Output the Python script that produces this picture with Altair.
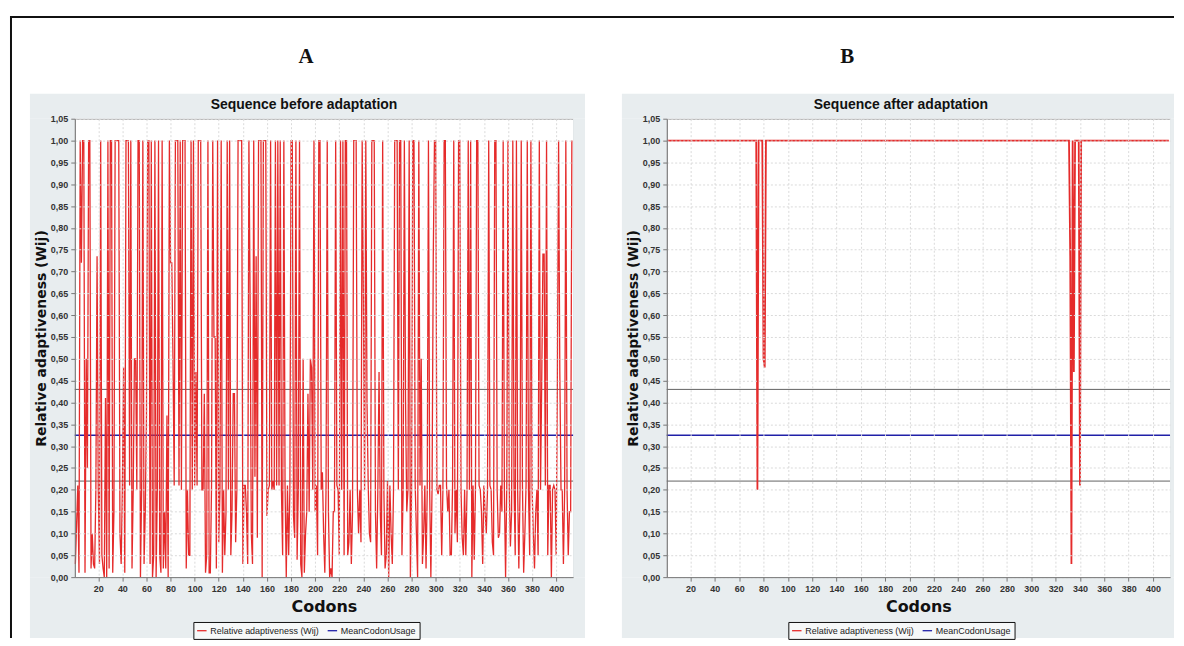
import altair as alt
import pandas as pd

# ---------------- data ----------------
codons = list(range(1, 414))

wij_before = [
    0.03, 0.12, 0.21, 0.01, 1.00, 0.72, 1.00, 1.00, 0.01, 0.50,
    0.25, 1.00, 1.00, 0.02, 0.10, 0.03, 0.02, 0.20, 0.735, 0.20,
    0.03, 1.00, 0.05, 0.02, 0.00, 0.41, 0.00, 1.00, 0.02, 1.00,
    1.00, 0.01, 0.15, 1.00, 1.00, 1.00, 1.00, 0.10, 0.03, 0.20,
    0.48, 0.01, 1.00, 1.00, 1.00, 0.21, 1.00, 0.02, 0.20, 0.50,
    0.50, 0.20, 1.00, 1.00, 0.00, 0.20, 1.00, 0.03, 0.15, 0.37,
    1.00, 1.00, 0.03, 1.00, 0.00, 0.05, 1.00, 0.00, 0.20, 1.00,
    0.05, 0.01, 1.00, 0.02, 0.15, 0.02, 0.37, 0.00, 1.00, 0.72,
    0.72, 0.50, 0.21, 1.00, 1.00, 1.00, 0.21, 1.00, 0.20, 1.00,
    1.00, 1.00, 0.02, 0.20, 0.05, 0.05, 1.00, 0.20, 1.00, 0.21,
    0.47, 0.21, 1.00, 1.00, 1.00, 0.20, 0.20, 0.42, 0.01, 0.05,
    1.00, 0.01, 0.01, 0.21, 1.00, 0.55, 0.55, 0.02, 1.00, 0.08,
    0.20, 1.00, 0.01, 0.20, 0.05, 0.15, 1.00, 0.20, 1.00, 0.05,
    0.15, 0.42, 0.42, 0.08, 0.20, 1.00, 1.00, 1.00, 1.00, 0.03,
    0.21, 0.21, 0.15, 0.03, 1.00, 0.64, 0.10, 0.03, 1.00, 0.23,
    0.735, 0.09, 1.00, 1.00, 1.00, 0.00, 1.00, 1.00, 1.00, 0.14,
    0.20, 0.21, 1.00, 0.20, 0.22, 0.20, 1.00, 0.21, 1.00, 0.21,
    1.00, 0.20, 0.05, 1.00, 0.21, 0.00, 0.21, 0.05, 0.20, 1.00,
    1.00, 0.14, 0.09, 1.00, 0.04, 0.20, 1.00, 0.03, 0.00, 0.50,
    0.01, 0.10, 0.15, 0.42, 0.15, 0.50, 0.48, 0.20, 1.00, 0.15,
    0.21, 0.05, 1.00, 1.00, 0.20, 0.24, 0.10, 0.01, 0.20, 1.00,
    0.15, 0.00, 0.02, 0.00, 0.15, 0.15, 1.00, 0.21, 0.20, 0.05,
    1.00, 0.20, 1.00, 0.05, 1.00, 1.00, 0.05, 0.08, 0.20, 0.03,
    0.15, 1.00, 1.00, 1.00, 0.20, 0.10, 0.20, 0.08, 1.00, 0.64,
    0.20, 1.00, 0.40, 0.21, 0.10, 0.08, 1.00, 1.00, 1.00, 0.15,
    0.02, 0.20, 0.47, 0.15, 0.05, 1.00, 0.20, 0.02, 0.05, 0.22,
    0.00, 0.21, 0.10, 0.03, 0.20, 1.00, 1.00, 1.00, 0.20, 1.00,
    1.00, 0.05, 0.20, 1.00, 0.40, 0.15, 0.20, 1.00, 0.00, 0.20,
    1.00, 1.00, 0.21, 0.10, 0.00, 1.00, 0.21, 0.50, 0.03, 0.10,
    0.21, 0.02, 0.20, 1.00, 0.20, 0.00, 0.21, 0.735, 1.00, 1.00,
    0.20, 0.19, 0.21, 0.21, 0.05, 0.20, 1.00, 1.00, 0.21, 0.15,
    0.20, 0.05, 0.05, 0.21, 1.00, 0.10, 0.20, 0.08, 1.00, 1.00,
    0.20, 0.09, 0.05, 0.20, 0.05, 0.20, 1.00, 0.20, 1.00, 0.00,
    0.21, 0.04, 0.20, 1.00, 1.00, 0.21, 0.20, 0.15, 0.03, 0.21,
    0.15, 0.10, 0.20, 1.00, 0.21, 0.20, 0.08, 0.05, 1.00, 1.00,
    0.20, 0.09, 0.10, 0.21, 0.15, 1.00, 0.20, 0.00, 0.21, 1.00,
    0.21, 0.07, 0.15, 1.00, 0.21, 0.05, 1.00, 0.20, 0.02, 0.20,
    1.00, 0.21, 0.01, 0.10, 0.21, 1.00, 0.20, 0.05, 1.00, 0.20,
    0.10, 0.02, 0.15, 0.20, 0.05, 1.00, 0.20, 0.45, 0.74, 0.74,
    0.21, 1.00, 0.05, 0.21, 0.21, 0.00, 0.20, 0.21, 0.20, 0.05,
    0.47, 1.00, 0.47, 0.20, 0.20, 0.03, 0.20, 1.00, 0.20, 0.05,
    0.15, 0.15, 1.00,
]

# after adaptation: every codon is 1.00 except these
after_dip_codons = [75, 80, 81, 332, 333, 335, 340]
after_dip_values = [0.20, 0.50, 0.48, 0.735, 0.03, 0.47, 0.21]
after_baseline = 1.00

mean_codon_usage = 0.325
band_upper = 0.43
band_lower = 0.22

x_ticks = list(range(20, 401, 20))
y_ticks = [round(i * 0.05, 2) for i in range(22)]

series_names = ["Relative adaptiveness (Wij)", "MeanCodonUsage"]
series_colors = ["#e52b2b", "#2020a8"]

# ---------------- tables ----------------
dips = dict(zip(after_dip_codons, after_dip_values))
wij_after = [dips.get(c, after_baseline) for c in codons]

df_before = pd.DataFrame({"codon": codons, "value": wij_before,
                          "series": series_names[0]})
df_after = pd.DataFrame({"codon": codons, "value": wij_after,
                         "series": series_names[0]})
df_mean = pd.DataFrame({"value": [mean_codon_usage], "series": [series_names[1]]})
df_band = pd.DataFrame({"value": [band_upper, band_lower]})
one = pd.DataFrame({"k": [0]})

# ---------------- styling ----------------
H = 460
W_A = 500
W_B = 505
LAB = "Liberation Sans, Arial, sans-serif"
TIT = "DejaVu Sans, sans-serif"
PANEL_BG = "#e8edef"

x_scale = alt.Scale(domain=[0.5, 414], nice=False, zero=False)
y_scale = alt.Scale(domain=[0, 1.05], nice=False, zero=True)

x_axis = alt.Axis(values=x_ticks, title="Codons", titleFont=TIT, titleFontSize=16,
                  titleFontWeight="bold", titleColor="#111", titlePadding=5,
                  labelFont=LAB, labelFontSize=9, labelFontWeight="bold",
                  labelColor="#333", labelPadding=3, tickColor="#777", tickSize=4,
                  domainColor="#777", gridColor="#dadada", gridDash=[2, 2],
                  labelFlush=False, zindex=1)
y_axis = alt.Axis(values=y_ticks, title="Relative adaptiveness (Wij)",
                  labelExpr="replace(format(datum.value, '.2f'), '.', ',')",
                  titleFont=TIT, titleFontSize=14, titleFontWeight="bold",
                  titleColor="#111", titlePadding=2, titleY=220,
                  labelFont=LAB, labelFontSize=9, labelFontWeight="bold",
                  labelColor="#333", labelPadding=3, tickColor="#777", tickSize=4,
                  domainColor="#777", gridColor="#dadada", gridDash=[2, 2], zindex=1)


def color_enc(legend_x):
    return alt.Color("series:N",
                     scale=alt.Scale(domain=series_names, range=series_colors),
                     legend=alt.Legend(orient="none", legendX=legend_x, legendY=H + 45,
                                       direction="horizontal", title=None,
                                       strokeColor="#111", fillColor="#f6f8f8",
                                       padding=3, symbolType="stroke",
                                       symbolStrokeWidth=1.3, symbolSize=90,
                                       labelFont=LAB, labelFontSize=9,
                                       labelColor="#222", columnPadding=5,
                                       labelOffset=3, zindex=1))


def panel(df, W, right_ext, line_w, letter, letter_x, subtitle, subtitle_x, legend_x, frame):
    top = -25
    bottom = H + 61
    bg = [
        alt.Chart(one).mark_rect(color=PANEL_BG).encode(
            x=alt.value(-45), x2=alt.value(W + right_ext), y=alt.value(top), y2=alt.value(0)),
        alt.Chart(one).mark_rect(color=PANEL_BG).encode(
            x=alt.value(-45), x2=alt.value(W + right_ext), y=alt.value(H), y2=alt.value(bottom)),
        alt.Chart(one).mark_rect(color=PANEL_BG).encode(
            x=alt.value(-45), x2=alt.value(0), y=alt.value(0), y2=alt.value(H)),
        alt.Chart(one).mark_rect(color=PANEL_BG).encode(
            x=alt.value(W), x2=alt.value(W + right_ext), y=alt.value(0), y2=alt.value(H)),
    ]
    band = alt.Chart(df_band).mark_rule(color="#626262", strokeWidth=1).encode(
        y=alt.Y("value:Q", scale=y_scale, axis=y_axis))
    mean = alt.Chart(df_mean).mark_rule(strokeWidth=1.3).encode(
        y=alt.Y("value:Q", scale=y_scale, axis=y_axis), color=color_enc(legend_x))
    line = alt.Chart(df).mark_line(strokeWidth=line_w, interpolate="linear").encode(
        x=alt.X("codon:Q", scale=x_scale, axis=x_axis),
        y=alt.Y("value:Q", scale=y_scale, axis=y_axis),
        color=color_enc(legend_x))
    letter_t = alt.Chart(one).mark_text(text=letter, font="Liberation Serif",
                                        fontSize=21, fontWeight="bold",
                                        color="#111").encode(
        x=alt.value(letter_x), y=alt.value(-62))
    sub_t = alt.Chart(one).mark_text(text=subtitle, font=LAB, fontSize=14,
                                     fontWeight="bold", color="#111").encode(
        x=alt.value(subtitle_x), y=alt.value(-14))
    layers = bg + [band, mean, line, letter_t, sub_t]
    if frame:
        layers.append(alt.Chart(one).mark_rule(color="#111", strokeWidth=2).encode(
            x=alt.value(-64), y=alt.value(-103), y2=alt.value(bottom)))
        layers.append(alt.Chart(one).mark_rule(color="#111", strokeWidth=2).encode(
            x=alt.value(-65), x2=alt.value(1103), y=alt.value(-102)))
    return alt.layer(*layers).properties(width=W, height=H)


panel_a = panel(df_before, W_A, 12, 1.3, "A", 232, "Sequence before adaptation", 230, 119, True)
panel_b = panel(df_after, W_B, 4, 1.8, "B", 181, "Sequence after adaptation", 235, 122, False)

chart = alt.hconcat(panel_a, panel_b, spacing=94, bounds="flush").resolve_scale(
    color="independent").resolve_legend(color="independent").properties(
    padding={"left": 0, "top": 5, "right": 0, "bottom": 0}
).configure_view(stroke="#9a9a9a")

chart.save("out.html", embed_options={"renderer": "svg", "actions": False})
